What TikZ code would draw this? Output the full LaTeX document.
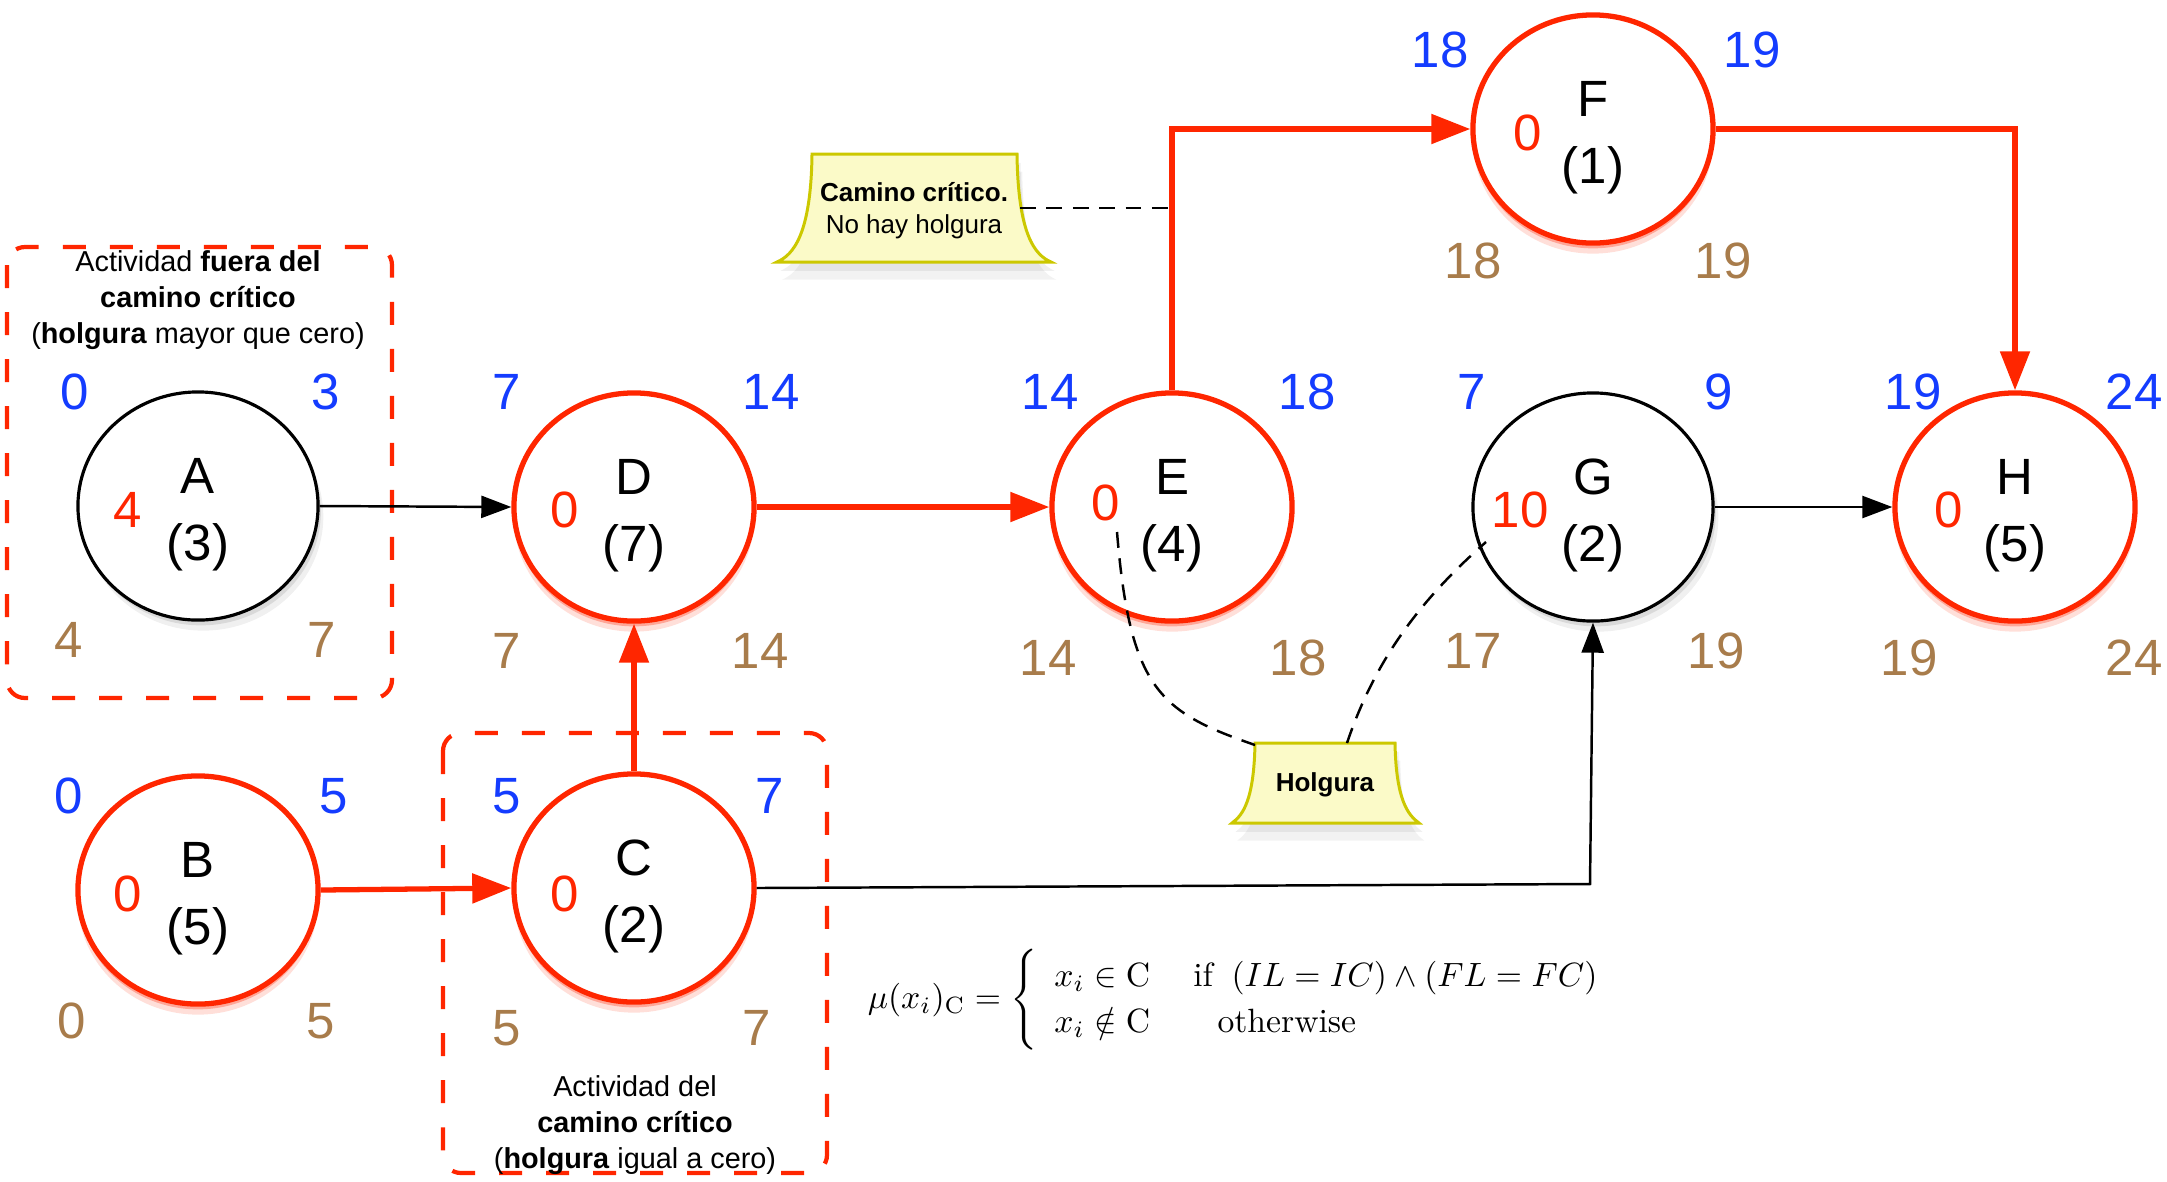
\documentclass[tikz,border=0pt]{standalone}
\usepackage{fontspec}
\newfontfamily\arial{Liberation Sans}
\usetikzlibrary{shapes.geometric,arrows.meta,shadows,calc}

\definecolor{critred}{RGB}{255,38,0}
\definecolor{esblue}{RGB}{20,60,255}
\definecolor{lsbrown}{RGB}{168,124,75}
\definecolor{notefill}{RGB}{251,250,200}
\definecolor{noteline}{RGB}{204,200,0}

% first line of an activity label, lowered slightly inside its circle
\newcommand\actlabel[2]{\rule{0pt}{15pt}#1\\(#2)}

\tikzset{
  actbase/.style={ellipse, fill=white, minimum width=2.4cm, minimum height=2.28cm,
    inner sep=0pt, align=center, font=\arial\fontsize{14.5}{19}\selectfont},
  act/.style={actbase, draw=black, line width=0.9pt,
    drop shadow={shadow xshift=1.5pt, shadow yshift=-3pt, opacity=0.12},
    drop shadow={shadow xshift=0.8pt, shadow yshift=-1.5pt, opacity=0.2}},
  crit/.style={actbase, draw=critred, line width=1.5pt,
    drop shadow={shadow xshift=0pt, shadow yshift=-3pt, opacity=0.15, fill=critred},
    drop shadow={shadow xshift=0pt, shadow yshift=-1.5pt, opacity=0.3, fill=critred}},
  num/.style={font=\arial\fontsize{14.5}{17}\selectfont, inner sep=0pt, anchor=center},
  es/.style={num, text=esblue},
  ls/.style={num, text=lsbrown},
  slack/.style={num, text=critred},
  critarrow/.style={draw=critred, line width=1.5pt, -{Triangle[length=0.39cm,width=0.29cm]}},
  plainarrow/.style={draw=black, line width=0.7pt, -{Triangle[length=0.3cm,width=0.22cm]}},
  groupbox/.style={draw=critred, line width=1.2pt, rounded corners=0.18cm,
    dash pattern=on 0.23cm off 0.24cm},
  grouptext/.style={font=\arial\fontsize{8.2}{10.2}\selectfont, align=center, inner sep=0pt},
  note/.style={fill=notefill, draw=noteline, line width=0.85pt,
    drop shadow={shadow xshift=1.5pt, shadow yshift=-5pt, opacity=0.1},
    drop shadow={shadow xshift=1pt, shadow yshift=-2.5pt, opacity=0.12}},
  notetext/.style={font=\arial\fontsize{7.4}{9.1}\selectfont, align=center, inner sep=0pt},
  hint/.style={draw=black, line width=0.7pt, dash pattern=on 4.5pt off 3pt},
}

\begin{document}
\begin{tikzpicture}[x=0.01cm, y=-0.01cm]
\path[use as bounding box] (0,0) rectangle (2167,1181);

% group frames
\draw[groupbox] (7,247) rectangle (392,698);
\draw[groupbox] (443,733) rectangle (827,1173);
\node[grouptext] (g1) at (198,300) {Actividad \textbf{fuera del}\\\textbf{camino crítico}\\(\textbf{holgura} mayor que cero)};
\node[grouptext] (g2) at (635,1125) {Actividad del\\\textbf{camino crítico}\\(\textbf{holgura} igual a cero)};

% activities
\node[act]  (A) at (198,506)  {\actlabel{A}{3}};
\node[crit] (D) at (634,507)  {\actlabel{D}{7}};
\node[crit] (E) at (1172,507) {\actlabel{E}{4}};
\node[crit] (F) at (1593,129) {\actlabel{F}{1}};
\node[act]  (G) at (1593,507) {\actlabel{G}{2}};
\node[crit] (H) at (2015,507) {\actlabel{H}{5}};
\node[crit] (B) at (198,890)  {\actlabel{B}{5}};
\node[crit] (C) at (634,888)  {\actlabel{C}{2}};

% times: early start/finish (blue), late start/finish (brown), slack (red)
\node[es] (A-es) at (75,392) {0};   \node[es] (A-ef) at (326,392) {3};
\node[ls] (A-ls) at (69,640) {4};   \node[ls] (A-lf) at (322,640) {7};
\node[slack] (A-sl) at (128,510) {4};

\node[es] (D-es) at (507,392) {7};  \node[es] (D-ef) at (771,392) {14};
\node[ls] (D-ls) at (507,651) {7};  \node[ls] (D-lf) at (760,651) {14};
\node[slack] (D-sl) at (565,510) {0};

\node[es] (E-es) at (1050,392) {14}; \node[es] (E-ef) at (1307,392) {18};
\node[ls] (E-ls) at (1048,658) {14}; \node[ls] (E-lf) at (1298,658) {18};
\node[slack] (E-sl) at (1106,503) {0};

\node[es] (F-es) at (1440,50) {18};  \node[es] (F-ef) at (1752,50) {19};
\node[ls] (F-ls) at (1473,261) {18}; \node[ls] (F-lf) at (1723,261) {19};
\node[slack] (F-sl) at (1528,133) {0};

\node[es] (G-es) at (1472,392) {7};  \node[es] (G-ef) at (1719,392) {9};
\node[ls] (G-ls) at (1473,651) {17}; \node[ls] (G-lf) at (1716,651) {19};
\node[slack] (G-sl) at (1520,510) {10};

\node[es] (H-es) at (1913,392) {19}; \node[es] (H-ef) at (2134,392) {24};
\node[ls] (H-ls) at (1909,658) {19}; \node[ls] (H-lf) at (2134,658) {24};
\node[slack] (H-sl) at (1949,510) {0};

\node[es] (B-es) at (69,796) {0};   \node[es] (B-ef) at (334,796) {5};
\node[ls] (B-ls) at (72,1021) {0};  \node[ls] (B-lf) at (321,1021) {5};
\node[slack] (B-sl) at (128,894) {0};

\node[es] (C-es) at (507,796) {5};  \node[es] (C-ef) at (770,796) {7};
\node[ls] (C-ls) at (507,1028) {5}; \node[ls] (C-lf) at (757,1028) {7};
\node[slack] (C-sl) at (565,894) {0};

% precedence links
\coordinate (cg) at (1590,884);
\draw[plainarrow] (A.east) -- (D.west);
\draw[critarrow] (D.east) -- (E.west);
\draw[critarrow] (B.east) -- (C.west);
\draw[critarrow] (C.north) -- (D.south);
\draw[plainarrow] (C.east) -- (cg) -- (G.south);
\draw[critarrow] (E.north) |- (F.west);
\draw[critarrow] (F.east) -| (H.north);
\draw[plainarrow] (G.east) -- (H.west);

% notes
\filldraw[note] (812,154) -- (1017,154) .. controls (1018,235) and (1035,255) .. (1051,262)
  -- (777,262) .. controls (793,255) and (811,235) .. (812,154) -- cycle;
\node[notetext] (n1) at (914,211) {\textbf{Camino crítico.}\\No hay holgura};
\filldraw[note] (1255,743) -- (1395,743) .. controls (1396,800) and (1408,815) .. (1419,823)
  -- (1232,823) .. controls (1243,815) and (1254,800) .. (1255,743) -- cycle;
\node[notetext] (n2) at (1325,785) {\textbf{Holgura}};

\coordinate (n1-r) at (1020,208);
\coordinate (cp) at (1172,208);
\coordinate (n2-l) at (1255,745);
\coordinate (n2-r) at (1347,743);
\coordinate (E-pt) at (1117,532);
\coordinate (G-pt) at (1486,542);
\draw[hint] (n1-r) -- (cp);
\draw[hint] (E-pt) .. controls (1130,690) and (1160,712) .. (n2-l);
\draw[hint] (n2-r) .. controls (1375,660) and (1420,600) .. (G-pt);

% membership rule
\node[inner sep=0pt] (rule) at (1243,1000) {\resizebox{7.5cm}{!}{\renewcommand{\arraystretch}{1.15}$\mu(x_i)_{\mathrm{C}} = \left\{\begin{array}{ll}
  x_i \in \mathrm{C} & \;\mbox{if}\;\;(IL = IC)\wedge(FL = FC)\\
  x_i \notin \mathrm{C} & \quad\mbox{otherwise}
\end{array}\right.$}};
\end{tikzpicture}
\end{document}
